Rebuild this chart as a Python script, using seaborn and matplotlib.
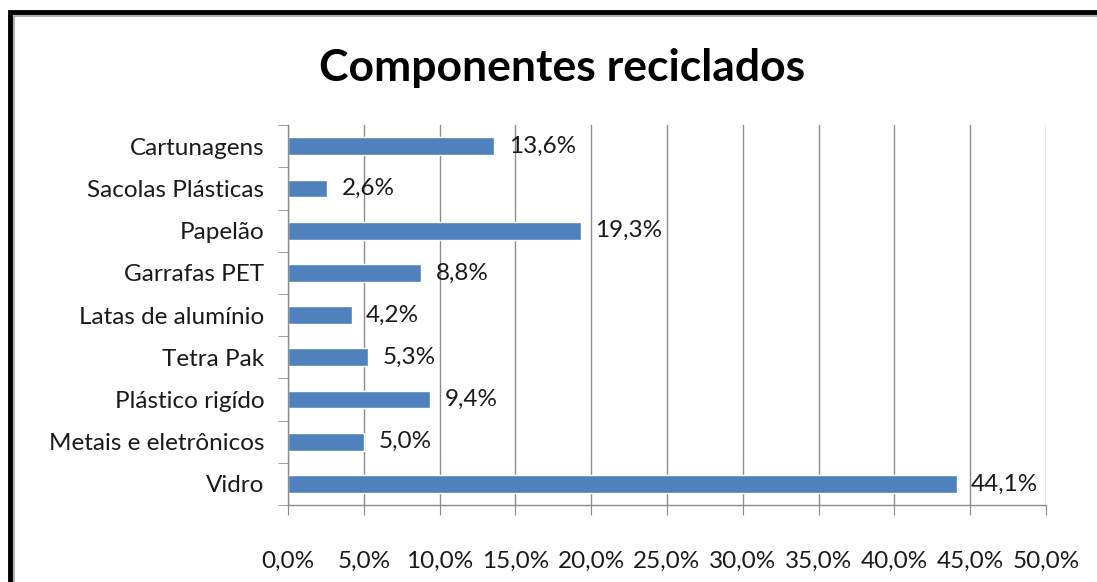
import numpy as np
import pandas as pd
import matplotlib
matplotlib.use('Agg')
import matplotlib.pyplot as plt
import seaborn as sns
from matplotlib.patches import Rectangle

# dados
componentes = ['Cartunagens', 'Sacolas Plásticas', 'Papelão', 'Garrafas PET',
               'Latas de alumínio', 'Tetra Pak', 'Plástico rigído',
               'Metais e eletrônicos', 'Vidro']
percentuais = [13.6, 2.6, 19.3, 8.8, 4.2, 5.3, 9.4, 5.0, 44.1]
ticks_x = [0, 5, 10, 15, 20, 25, 30, 35, 40, 45, 50]

df = pd.DataFrame({'Componente': componentes, 'Percentual': percentuais})

sns.set_style('white')
plt.rcParams['font.family'] = ['Lato', 'DejaVu Sans']

fig = plt.figure(figsize=(10.97, 5.82), dpi=100)
ax = fig.add_axes([0.2625, 0.1323, 0.691, 0.6527])

sns.barplot(data=df, x='Percentual', y='Componente', orient='h',
            color='#4F81BD', saturation=1, width=0.42, ax=ax)

# rótulos de valor
for i, v in enumerate(percentuais):
    ax.text(v + 0.95, i, f'{v:.1f}%'.replace('.', ','), va='center', ha='left',
            fontsize=17.5, color='#1a1a1a')

ax.set_xlim(0, 50)
ax.set_ylim(8.5, -0.5)
ax.set_xticks(ticks_x)
ax.set_xticklabels([f'{t:.1f}%'.replace('.', ',') for t in ticks_x], fontsize=17.5,
                   color='#1a1a1a')
ax.set_yticklabels(componentes, fontsize=17.5, color='#1a1a1a')
ax.set_xlabel('')
ax.set_ylabel('')

ax.grid(axis='x', color='#8c8c8c', linewidth=1)
ax.set_axisbelow(True)
for s in ['top', 'right']:
    ax.spines[s].set_visible(False)
for s in ['left', 'bottom']:
    ax.spines[s].set_color('#8c8c8c')
    ax.spines[s].set_linewidth(1)

# marcas entre categorias
ax.set_yticks(np.arange(-0.5, 9, 1), minor=True)
ax.tick_params(axis='y', which='major', length=0, pad=17)
ax.tick_params(axis='y', which='minor', length=7, color='#8c8c8c', direction='out', left=True)
ax.tick_params(axis='x', which='major', length=7, color='#8c8c8c', direction='out',
               bottom=True, pad=26)

fig.text(0.512, 0.883, 'Componentes reciclados', ha='center', va='center',
         fontsize=32, fontweight='bold', color='black')

# moldura
fig.patches.append(Rectangle((10 / 1097, -0.1), 1.2, 1 - 12 / 582 + 0.1,
                             transform=fig.transFigure, fill=False,
                             edgecolor='black', linewidth=3.5))
fig.patches.append(Rectangle((14 / 1097, -0.1), 1.2, 1 - 16 / 582 + 0.1,
                             transform=fig.transFigure, fill=False,
                             edgecolor='#a0a0a0', linewidth=1.2))

fig.savefig('out.png', dpi=100)
